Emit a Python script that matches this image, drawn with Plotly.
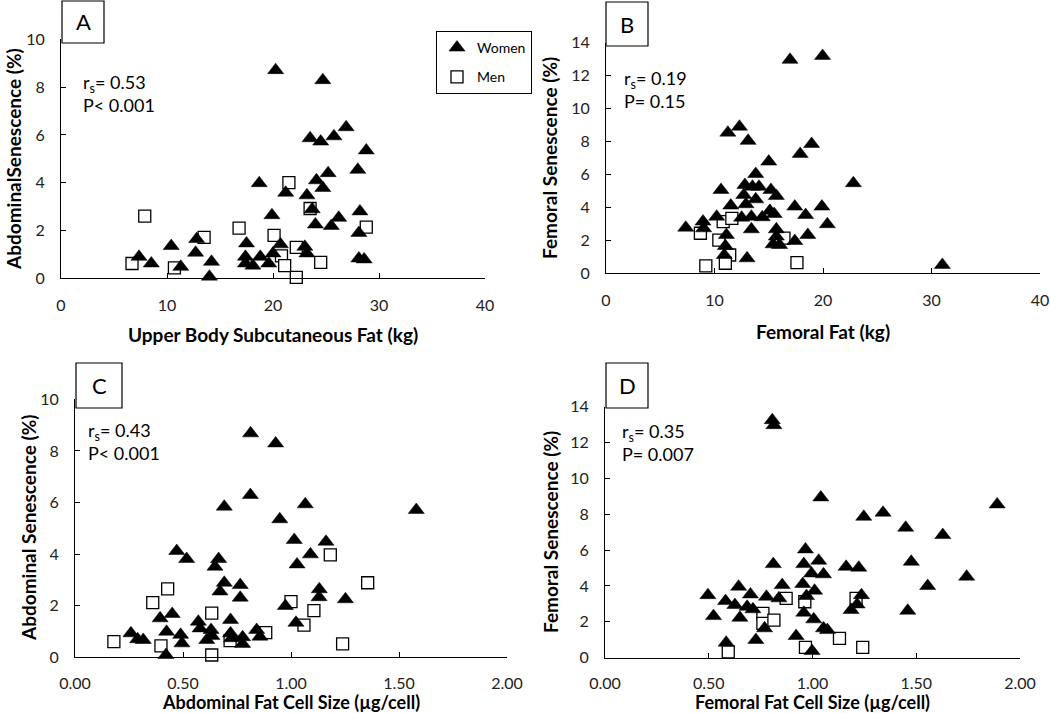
import plotly.graph_objects as go

# ---------------- data ----------------
# Panel A: Upper body subcutaneous fat (kg) vs abdominal senescence (%)
a_women_x = [20.25, 24.7, 26.9, 23.5, 24.5, 25.75, 28.8, 28.0, 25.2, 24.1, 24.7, 18.7, 21.2, 23.2,
             23.7, 19.9, 24.0, 25.5, 26.2, 28.2, 28.1, 10.4, 12.8, 12.7, 7.36, 8.52, 11.3, 14.2,
             14.0, 17.5, 17.4, 17.4, 18.1, 18.8, 19.6, 20.0, 20.7, 23.0, 23.2, 28.1, 28.6]
a_women_y = [8.71, 8.29, 6.32, 5.86, 5.72, 5.94, 5.35, 4.54, 4.4, 4.1, 3.78, 3.98, 3.58, 3.47,
             2.89, 2.64, 2.25, 2.19, 2.53, 2.80, 1.9, 1.35, 1.64, 1.07, 0.9, 0.62, 0.48, 0.69,
             0.07, 1.46, 0.9, 0.62, 0.53, 0.9, 0.62, 1.04, 1.42, 1.32, 1.04, 0.83, 0.79]
a_men_x = [7.9, 6.7, 10.7, 13.5, 16.8, 21.5, 23.5, 20.1, 28.8, 22.2, 20.8, 21.1, 22.2, 24.5]
a_men_y = [2.6, 0.62, 0.44, 1.71, 2.1, 4.0, 2.92, 1.8, 2.14, 1.29, 0.94, 0.53, 0.04, 0.67]

# Panel B: Femoral fat (kg) vs femoral senescence (%)
b_women_x = [16.96, 19.96, 11.23, 12.3, 13.1, 18.95, 17.9, 15.0, 13.8, 22.8, 10.6, 12.8, 13.5, 14.1,
             15.2, 15.7, 12.7, 13.8, 11.5, 12.9, 17.4, 19.9, 18.4, 15.1, 15.5, 14.4, 13.4, 12.5,
             10.2, 8.94, 7.35, 20.4, 13.4, 15.7, 15.7, 15.4, 16.0, 17.4, 18.6, 11.1, 11.0, 10.9,
             13.0, 31.0, 9.0]
b_women_y = [12.96, 13.2, 8.54, 8.9, 8.04, 7.85, 7.25, 6.78, 6.03, 5.47, 5.06, 5.36, 5.26, 5.26,
             5.06, 4.7, 4.76, 4.49, 4.11, 4.19, 4.05, 4.05, 3.54, 3.79, 3.6, 3.4, 3.44, 3.38,
             3.44, 3.14, 2.77, 2.98, 2.67, 2.67, 2.23, 1.76, 1.72, 1.96, 2.33, 2.33, 1.66, 1.11,
             0.91, 0.51, 2.73]
b_men_x = [8.7, 10.8, 11.6, 10.4, 16.4, 11.4, 9.2, 11.0, 17.6]
b_men_y = [2.43, 3.14, 3.34, 2.02, 2.13, 1.11, 0.45, 0.61, 0.65]

# Panel C: Abdominal fat cell size (ug/cell) vs abdominal senescence (%)
c_women_x = [0.813, 0.929, 0.812, 0.691, 1.066, 0.948, 1.015, 1.162, 1.09, 1.028, 0.471, 0.517,
             0.665, 0.648, 0.691, 0.671, 0.765, 0.765, 1.131, 1.13, 1.252, 0.974, 0.394, 0.45,
             0.424, 0.571, 0.579, 0.489, 0.495, 0.259, 0.29, 0.316, 0.421, 0.63, 0.61, 0.634,
             0.72, 0.72, 0.725, 0.776, 0.776, 0.841, 0.856, 1.023, 1.58]
c_women_y = [8.68, 8.29, 6.29, 5.84, 5.93, 5.35, 4.55, 4.48, 3.99, 3.6, 4.12, 3.81,
             3.81, 3.51, 2.89, 2.55, 2.8, 2.31, 2.64, 2.33, 2.25, 1.99, 1.51, 1.68,
             0.99, 1.38, 1.12, 0.87, 0.54, 0.93, 0.7, 0.67, 0.09, 1.06, 0.67, 0.83,
             1.45, 0.93, 0.74, 0.78, 0.52, 1.06, 0.8, 1.34, 5.71]
c_men_x = [0.18, 0.36, 0.429, 0.398, 0.633, 0.633, 0.718, 0.883, 1.0, 1.106, 1.06, 1.182, 1.239, 1.355]
c_men_y = [0.61, 2.12, 2.65, 0.44, 1.71, 0.09, 0.65, 0.96, 2.16, 1.81, 1.25, 3.97, 0.52, 2.89]

# Panel D: Femoral fat cell size (ug/cell) vs femoral senescence (%)
d_women_x = [0.806, 0.814, 1.04, 1.89, 1.247, 1.34, 1.449, 1.628, 1.476, 1.743, 1.555, 1.459,
             0.966, 1.03, 0.958, 0.811, 0.995, 1.053, 1.162, 1.223, 0.854, 0.953, 1.01, 0.644,
             0.701, 0.778, 0.838, 0.496, 0.581, 0.626, 0.685, 0.713, 0.523, 0.65, 0.769, 0.958,
             0.971, 1.006, 1.053, 1.072, 1.186, 1.215, 1.236, 0.584, 0.727, 0.921, 0.998]
d_women_y = [13.25, 12.97, 8.94, 8.55, 7.86, 8.09, 7.25, 6.84, 5.35, 4.52, 4.0, 2.62,
             6.04, 5.41, 5.22, 5.22, 4.7, 4.65, 5.07, 5.02, 4.05, 4.11, 3.74, 3.96,
             3.53, 3.4, 3.31, 3.49, 3.16, 2.94, 2.84, 2.7, 2.32, 2.23, 1.64, 2.51,
             3.44, 2.14, 1.64, 1.54, 2.66, 2.97, 3.49, 0.84, 0.99, 1.21, 0.37]
d_men_x = [0.594, 0.761, 0.761, 0.814, 0.873, 0.963, 0.966, 1.13, 1.21, 1.242]
d_men_y = [0.33, 2.47, 1.91, 2.1, 3.31, 3.12, 0.58, 1.08, 3.31, 0.58]

panel_letters = ["A", "B", "C", "D"]
stats_text = ["r<sub>s</sub>= 0.53<br>P< 0.001", "r<sub>s</sub>= 0.19<br>P= 0.15",
              "r<sub>s</sub>= 0.43<br>P< 0.001", "r<sub>s</sub>= 0.35<br>P= 0.007"]
x_titles = ["Upper Body Subcutaneous Fat (kg)", "Femoral Fat (kg)",
            "Abdominal Fat Cell Size (µg/cell)", "Femoral Fat Cell Size (µg/cell)"]
y_titles = ["AbdominalSenescence (%)", "Femoral Senescence (%)",
            "Abdominal Senescence (%)", "Femoral Senescence (%)"]
x_ticks = [[0, 10, 20, 30, 40], [0, 10, 20, 30, 40],
           [0, 0.5, 1.0, 1.5, 2.0], [0, 0.5, 1.0, 1.5, 2.0]]
x_ticklabels = [["0", "10", "20", "30", "40"], ["0", "10", "20", "30", "40"],
                ["0.00", "0.50", "1.00", "1.50", "2.00"], ["0.00", "0.50", "1.00", "1.50", "2.00"]]
y_ticks = [[0, 2, 4, 6, 8, 10], [0, 2, 4, 6, 8, 10, 12, 14],
           [0, 2, 4, 6, 8, 10], [0, 2, 4, 6, 8, 10, 12, 14]]
series_names = ["Women", "Men"]

# ---------------- layout geometry (pixels) ----------------
W, H = 1050, 713
# (left, right, bottom, top) pixel positions of each plot area
areas = [(61, 485, 278.3, 39.3), (606, 1040, 273.3, 42.7),
         (75, 507, 657.3, 399.3), (605, 1020, 657.7, 406.7)]
# letter boxes (x0, x1, y0, y1) in pixels
boxes = [(62, 104, 1, 43), (606, 648, 2, 46), (76, 122, 363, 408), (606, 648, 363, 408)]
# stats text anchor (left x, vertical middle y) in pixels
stats_pos = [(81, 93), (622, 89), (86, 441), (620, 443)]
# axis title centres in pixels
x_title_pos = [(273, 335), (823, 331), (291, 702), (812, 702)]
y_title_pos = [(14, 159), (550, 158), (28, 528), (550, 532)]
x_title_size = [19, 19, 18, 18]
x_label_standoff = [12, 12, 11, 11]

FONT = "Lato, Carlito, Calibri, Arial"

def px(x):
    return x / W

def py(y):
    return 1 - y / H

fig = go.Figure()
data = [(a_women_x, a_women_y, a_men_x, a_men_y),
        (b_women_x, b_women_y, b_men_x, b_men_y),
        (c_women_x, c_women_y, c_men_x, c_men_y),
        (d_women_x, d_women_y, d_men_x, d_men_y)]

for i, (wx, wy, mx, my) in enumerate(data):
    xa = "x" if i == 0 else f"x{i+1}"
    ya = "y" if i == 0 else f"y{i+1}"
    fig.add_trace(go.Scatter(
        x=mx, y=my, mode="markers", name=series_names[1], xaxis=xa, yaxis=ya,
        showlegend=(i == 0), legendrank=2, legendgroup="m", cliponaxis=False,
        marker=dict(symbol="square", size=12, color="white",
                    line=dict(color="black", width=1.3))))
    fig.add_trace(go.Scatter(
        x=wx, y=wy, mode="markers", name=series_names[0], xaxis=xa, yaxis=ya,
        showlegend=(i == 0), legendrank=1, legendgroup="w", cliponaxis=False,
        marker=dict(symbol="triangle-up", size=14, color="black",
                    line=dict(color="black", width=0.5))))

layout = dict(
    width=W, height=H, margin=dict(l=0, r=0, t=0, b=0, autoexpand=False),
    paper_bgcolor="white", plot_bgcolor="white",
    font=dict(family=FONT, color="#000000"),
    legend=dict(x=px(436), y=py(31), xanchor="left", yanchor="top",
                bordercolor="#000000", borderwidth=1, bgcolor="white",
                font=dict(size=14, family=FONT), itemwidth=30,
                tracegroupgap=8),
)

annotations = []
shapes = []
for i, (l, r, b, t) in enumerate(areas):
    xk = "xaxis" if i == 0 else f"xaxis{i+1}"
    yk = "yaxis" if i == 0 else f"yaxis{i+1}"
    ymax = y_ticks[i][-1]
    xmax = x_ticks[i][-1]
    layout[xk] = dict(
        domain=[px(l), px(r)], range=[0, xmax], anchor=("y" if i == 0 else f"y{i+1}"),
        automargin=False, ticklabeloverflow="allow",
        tickvals=x_ticks[i], ticktext=x_ticklabels[i],
        ticks="inside", ticklen=5, tickcolor="#000000", tickwidth=1,
        ticklabelstandoff=x_label_standoff[i],
        showline=True, linecolor="#000000", linewidth=1.2, showgrid=False, zeroline=False,
        tickfont=dict(size=16, color="#222222"))
    layout[yk] = dict(
        domain=[py(b), py(t)], range=[0, ymax], anchor=("x" if i == 0 else f"x{i+1}"),
        automargin=False, ticklabeloverflow="allow",
        tickvals=y_ticks[i], ticks="inside", ticklen=5, tickcolor="#000000", tickwidth=1,
        ticklabelstandoff=12,
        showline=True, linecolor="#000000", linewidth=1.2, showgrid=False, zeroline=False,
        tickfont=dict(size=16, color="#222222"))
    # axis titles
    xtx, xty = x_title_pos[i]
    annotations.append(dict(
        xref="paper", yref="paper", x=px(xtx), y=py(xty), xanchor="center", yanchor="middle",
        showarrow=False, text=f"<b>{x_titles[i]}</b>",
        font=dict(size=x_title_size[i], family=FONT, color="#000000")))
    ytx, yty = y_title_pos[i]
    annotations.append(dict(
        xref="paper", yref="paper", x=px(ytx), y=py(yty), xanchor="center", yanchor="middle",
        showarrow=False, textangle=-90, text=f"<b>{y_titles[i]}</b>",
        font=dict(size=19, family=FONT, color="#000000")))
    # stats text
    sx, sy = stats_pos[i]
    annotations.append(dict(
        xref="paper", yref="paper", x=px(sx), y=py(sy),
        xanchor="left", yanchor="middle", align="left", showarrow=False,
        text=stats_text[i], font=dict(size=18, family=FONT, color="#000000")))
    # letter box
    bx0, bx1, by0, by1 = boxes[i]
    shapes.append(dict(type="rect", xref="paper", yref="paper",
                       x0=px(bx0), x1=px(bx1), y0=py(by1), y1=py(by0),
                       line=dict(color="#000000", width=1.2), fillcolor="white", layer="above"))
    annotations.append(dict(
        xref="paper", yref="paper", x=px((bx0 + bx1) / 2), y=py((by0 + by1) / 2),
        xanchor="center", yanchor="middle", showarrow=False,
        text=panel_letters[i], font=dict(size=22, family=FONT, color="#000000")))

layout["annotations"] = annotations
layout["shapes"] = shapes
fig.update_layout(**layout)
fig.write_html("out.html", config={"displayModeBar": False},
               post_script="document.body.style.margin='0';document.body.style.overflow='hidden';")
